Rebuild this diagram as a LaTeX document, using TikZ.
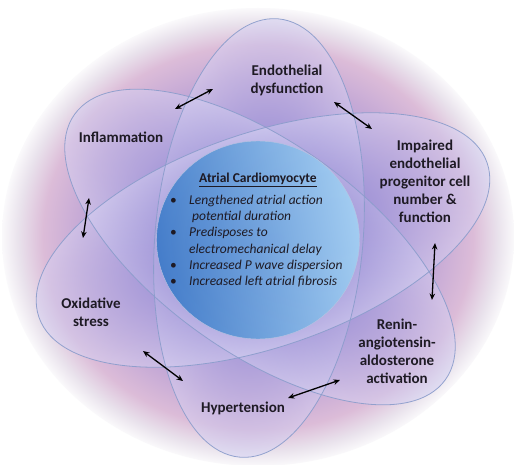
\documentclass[tikz,border=0pt]{standalone}
\usepackage{fontspec}
\setmainfont{Carlito}
\usetikzlibrary{shapes.geometric,arrows.meta}
\definecolor{txt}{HTML}{1E1A24}
\definecolor{gA}{HTML}{9080D0}
\definecolor{gB}{HTML}{A494D6}
\definecolor{gC}{HTML}{C6AAD6}
\definecolor{gD}{HTML}{DCBCD8}
\definecolor{gE}{HTML}{E9E2EC}
\definecolor{gF}{HTML}{FAF9FB}
\definecolor{petalin}{HTML}{7868C4}
\definecolor{petalout}{HTML}{D4D0F2}
\definecolor{petaledge}{HTML}{8A9CCB}
\definecolor{blueA}{HTML}{3E7BC9}
\definecolor{blueB}{HTML}{A2D0F3}
\pgfdeclareradialshading{outerglow}{\pgfpoint{0bp}{0bp}}{color(0bp)=(gA); color(11bp)=(gB); color(17.5bp)=(gC); color(21bp)=(gD); color(23.4bp)=(gE); color(25bp)=(gF); color(50bp)=(gF)}
\tikzset{
  petalfill/.style={shade, inner color=petalin, outer color=petalout, fill opacity=0.52},
  petalline/.style={draw=petaledge, line width=0.8pt, draw opacity=0.9},
  lbl/.style={font=\fontsize{15}{18}\selectfont\bfseries, text=txt, align=center, inner sep=0pt},
  dbl/.style={{Stealth[length=6.5pt,width=5.5pt]}-{Stealth[length=6.5pt,width=5.5pt]}, line width=1.3pt, black}
}
\newcommand\petalshape[4]{% centre, angle, a, b
  \begin{scope}[transform canvas={shift={(#1)}, rotate=#2}]
    \shade[petalfill] (0,0) ellipse [x radius=#3, y radius=#4];
  \end{scope}}
\newcommand\petaledge[4]{%
  \begin{scope}[transform canvas={shift={(#1)}, rotate=#2}]
    \draw[petalline] (0,0) ellipse [x radius=#3, y radius=#4];
  \end{scope}}
\begin{document}
\begin{tikzpicture}[x=1pt,y=-1pt]
\useasboundingbox (0,0) rectangle (514,465);
\fill[white] (0,0) rectangle (514,465);
% outer glow
\node[ellipse, inner sep=0pt, minimum width=512pt, minimum height=458pt, shading=outerglow] (bg) at (258,237) {};
% petals
\petalshape{259,238}{85}{220}{104}
\petalshape{260,247}{-35.6}{228}{105}
\petalshape{263,240}{19}{237}{107}
\petaledge{259,238}{85}{220}{104}
\petaledge{260,247}{-35.6}{228}{105}
\petaledge{263,240}{19}{237}{107}
% centre
\node[ellipse, inner sep=0pt, minimum width=203pt, minimum height=198pt, left color=blueA, right color=blueB, shading angle=100, fill opacity=0.93, draw=petaledge!60, line width=0.4pt] (core) at (258,240) {};
\node[font=\fontsize{13.5}{16.2}\selectfont\bfseries, text=txt, inner sep=0pt] (title) at (258,180) {\underline{Atrial Cardiomyocyte}};
\node[font=\fontsize{13.5}{16.2}\selectfont\itshape, text=txt, inner sep=0pt, anchor=north west] (list) at (170,193) {%
\begin{tabular}{@{}l@{}l@{}}
\makebox[19pt][l]{\upshape•} & Lengthened atrial action\\
 & \hspace{3pt}potential duration\\
\makebox[19pt][l]{\upshape•} & Predisposes to\\
 & electromechanical delay\\
\makebox[19pt][l]{\upshape•} & Increased P wave dispersion\\
\makebox[19pt][l]{\upshape•} & Increased left atrial fibrosis
\end{tabular}};
% labels
\node[lbl] (endo) at (287,80) {Endothelial\\dysfunction};
\node[lbl] (infl) at (121,137) {Inflammation};
\node[lbl] (epc) at (425,181) {Impaired\\endothelial\\progenitor cell\\number \&\\function};
\node[lbl] (raas) at (397,351) {Renin-\\angiotensin-\\aldosterone\\activation};
\node[lbl] (oxid) at (91,312) {Oxidative\\stress};
\node[lbl] (hyp) at (243,408) {Hypertension};
% arrow ends
\coordinate (a1s) at (175,109); \coordinate (a1e) at (213,89);
\coordinate (a2s) at (334,102); \coordinate (a2e) at (372,129);
\coordinate (a3s) at (435,243); \coordinate (a3e) at (432,300);
\coordinate (a4s) at (340,380); \coordinate (a4e) at (288,398);
\coordinate (a5s) at (183,381); \coordinate (a5e) at (143,351);
\coordinate (a6s) at (83,238);  \coordinate (a6e) at (89,198);
\draw[dbl] (a1s) -- (a1e);
\draw[dbl] (a2s) -- (a2e);
\draw[dbl] (a3s) -- (a3e);
\draw[dbl] (a4s) -- (a4e);
\draw[dbl] (a5s) -- (a5e);
\draw[dbl] (a6s) -- (a6e);
\end{tikzpicture}
\end{document}
